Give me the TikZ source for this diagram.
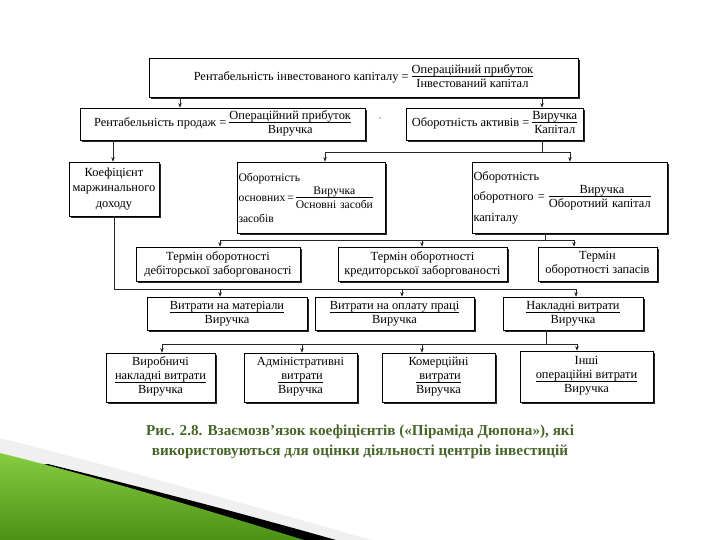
\documentclass[tikz,border=0pt]{standalone}
\usepackage{fontspec}
\setmainfont{Liberation Serif}
\usetikzlibrary{arrows.meta,shadows}
\definecolor{capgreen}{RGB}{72,102,42}
\definecolor{gtop}{RGB}{135,205,65}
\definecolor{gbot}{RGB}{75,145,20}
\newcommand{\frc}[2]{\begin{tabular}[c]{@{}c@{}}#1\\[-1.5pt]\hline\rule{0pt}{11pt}#2\end{tabular}}
\newcommand{\frct}[2]{\begin{tabular}[t]{@{}c@{}}#1\\[-1.5pt]\hline\rule{0pt}{11pt}#2\end{tabular}}
\tikzset{
  box/.style={draw, line width=0.7pt, fill=white, inner sep=1pt, align=center,
    font=\fontsize{12.4}{14}\selectfont,
    drop shadow={shadow xshift=1.8pt, shadow yshift=-1.8pt, fill=black!85, opacity=1}},
  conn/.style={line width=0.5pt, draw=black!85},
  arr/.style={conn, -{Stealth[length=4.5pt,width=3.5pt]}},
  caption/.style={font=\bfseries\fontsize{15.2}{20.5}\selectfont, text=capgreen, align=center}
}
\begin{document}
\begin{tikzpicture}[x=1pt,y=-1pt]
\useasboundingbox[fill=white] (0,0) rectangle (720,540);
% decorative swoosh
\fill[gray!12] (0,438) .. controls (120,468) and (240,503) .. (372,540) -- (0,540) -- cycle;
\fill[black] (48,464) .. controls (140,487) and (230,510) .. (336,540) -- (0,540) -- (0,470) -- cycle;
\shade[top color=gtop, bottom color=gbot] (0,453) .. controls (100,478) and (200,508) .. (304,540) -- (0,540) -- cycle;
% boxes
\node[box, minimum width=429, minimum height=39] (top) at (363.5,77.5)
  {Рентабельність інвестованого капіталу = \frc{Операційний прибуток}{Інвестований капітал}};
\node[box, minimum width=285, minimum height=32] (rp) at (222.5,124)
  {Рентабельність продаж = \frc{Операційний прибуток}{Виручка}};
\node[box, minimum width=177, minimum height=32] (oa) at (494.5,124)
  {Оборотність активів = \frc{Виручка}{Капітал}};
\node[box, minimum width=90, minimum height=54, font=\fontsize{12.4}{15.5}\selectfont] (kmd) at (114,189)
  {Коефіцієнт\\маржинального\\доходу};
\node[box, text width=146, minimum height=71, align=left, inner xsep=0.8pt, inner ysep=2pt, font=\fontsize{11.6}{14}\selectfont] (osn) at (311.5,197.5)
  {Оборотність\\основних\,=\,\frc{Виручка}{Основні засоби}\\засобів};
\node[box, text width=193, minimum height=71, align=left, inner xsep=0.8pt, inner ysep=2pt] (obk) at (570,197.5)
  {Оборотність\\оборотного = \frc{\ Виручка\ }{Оборотний капітал}\\капіталу};
\node[box, minimum width=164, minimum height=34] (t1) at (218,264)
  {Термін оборотності\\дебіторської заборгованості};
\node[box, minimum width=169, minimum height=34] (t2) at (422.5,264)
  {Термін оборотності\\кредиторської заборгованості};
\node[box, minimum width=119, minimum height=34] (t3) at (597.5,264)
  {Термін\\оборотності запасів};
\node[box, minimum width=160, minimum height=33] (v1) at (227,313.5)
  {\frc{Витрати на матеріали}{Виручка}};
\node[box, minimum width=159, minimum height=33] (v2) at (394.5,313.5)
  {\frc{Витрати на оплату праці}{Виручка}};
\node[box, minimum width=140, minimum height=33] (v3) at (573,313.5)
  {\frc{Накладні витрати}{Виручка}};
\node[box, minimum width=109, minimum height=49] (b1) at (160.5,377.5)
  {Виробничі\\\frct{накладні витрати}{Виручка}};
\node[box, minimum width=113, minimum height=49] (b2) at (300.5,377.5)
  {Адміністративні\\\frct{\ витрати\ }{Виручка}};
\node[box, minimum width=113, minimum height=49] (b3) at (438.5,377.5)
  {Комерційні\\\frct{\ витрати\ }{Виручка}};
\node[box, minimum width=133, minimum height=51] (b4) at (586.5,376.5)
  {Інші\\\frct{операційні витрати}{Виручка}};
\fill (380,118) circle (0.7);
% junction coordinates
\coordinate (x180) at (180,0);
\coordinate (x542) at (542,0);
\coordinate (x113) at (113,0);
\coordinate (j1) at (542,152);
\coordinate (a1) at (325,152);
\coordinate (a2) at (570,152);
\coordinate (j2) at (545,240);
\coordinate (c1) at (220,240);
\coordinate (c2) at (422,240);
\coordinate (c3) at (574,240);
\coordinate (k1) at (114,289);
\coordinate (d1) at (220,289);
\coordinate (d2) at (402,289);
\coordinate (d3) at (576,289);
\coordinate (j3) at (546,344);
\coordinate (e1) at (162,344);
\coordinate (e2) at (302,344);
\coordinate (e3) at (422,344);
\coordinate (e4) at (577,344);
% connectors
\draw[arr] (top.south -| x180) -- (rp.north -| x180);
\draw[arr] (top.south -| x542) -- (oa.north -| x542);
\draw[arr] (rp.south -| x113) -- (kmd.north -| x113);
\draw[conn] (oa.south -| j1) -- (j1);
\draw[conn] (a1) -- (a2);
\draw[arr] (a1) -- (osn.north -| a1);
\draw[arr] (a2) -- (obk.north -| a2);
\draw[conn] (obk.south -| j2) -- (j2);
\draw[conn] (c1) -- (c3);
\draw[arr] (c1) -- (t1.north -| c1);
\draw[arr] (c2) -- (t2.north -| c2);
\draw[arr] (c3) -- (t3.north -| c3);
\draw[conn] (kmd.south -| k1) -- (k1) -- (d3);
\draw[arr] (d1) -- (v1.north -| d1);
\draw[arr] (d2) -- (v2.north -| d2);
\draw[arr] (d3) -- (v3.north -| d3);
\draw[conn] (v3.south -| j3) -- (j3);
\draw[conn] (e1) -- (e4);
\draw[arr] (e1) -- (b1.north -| e1);
\draw[arr] (e2) -- (b2.north -| e2);
\draw[arr] (e3) -- (b3.north -| e3);
\draw[arr] (e4) -- (b4.north -| e4);
% caption
\node[caption] (cap) at (360,442)
  {Рис. 2.8. Взаємозв’язок коефіцієнтів («Піраміда Дюпона»), які\\використовуються для оцінки діяльності центрів інвестицій};
\end{tikzpicture}
\end{document}
